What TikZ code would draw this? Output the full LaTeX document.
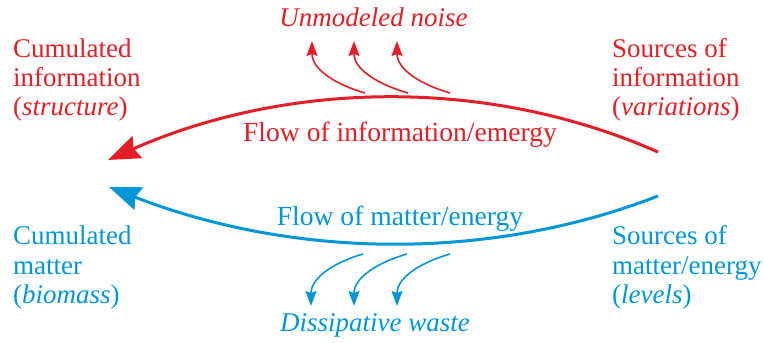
\documentclass[tikz,border=0pt]{standalone}
\usepackage{fontspec}
\setmainfont{Liberation Serif}
\usetikzlibrary{arrows.meta}
\definecolor{flowred}{RGB}{228,30,38}
\definecolor{flowblue}{RGB}{0,150,215}
\begin{document}
\begin{tikzpicture}[x=1pt,y=1pt,
  font=\fontsize{27}{29.3}\selectfont,
  lbl/.style={inner sep=0pt, align=left, anchor=base west},
  ctr/.style={inner sep=0pt, anchor=base},
  flowtxt/.style={ctr, font=\fontsize{27.6}{30}\selectfont},
  bigred/.style={draw=flowred, line width=3pt, -{Stealth[length=32pt,width=24pt,inset=4pt]}},
  bigblue/.style={draw=flowblue, line width=3pt, -{Stealth[length=32pt,width=24pt,inset=4pt]}},
  smallred/.style={draw=flowred, line width=1.6pt, -{Stealth[length=15pt,width=11pt,inset=2pt]}},
  smallblue/.style={draw=flowblue, line width=1.6pt, -{Stealth[length=15pt,width=11pt,inset=2pt]}}]
\useasboundingbox (0,0) rectangle (764,343);

% labels (base anchor = baseline of last line)
\node[lbl, text=flowred] (cuminfo) at (13,227) {Cumulated\\information\\(\textit{structure})};
\node[lbl, text=flowred] (srcinfo) at (612,227) {Sources of\\information\\(\textit{variations})};
\node[lbl, text=flowblue] (cummat) at (13,39.5) {Cumulated\\matter\\(\textit{biomass})};
\node[lbl, text=flowblue] (srcmat) at (612,39.5) {Sources of\\matter/energy\\(\textit{levels})};
\node[ctr, text=flowred] (noise) at (373.5,316) {\textit{Unmodeled noise}};
\node[ctr, text=flowblue] (waste) at (375,11.3) {\textit{Dissipative waste}};
\node[flowtxt, text=flowred] (flowinfo) at (400,201) {Flow of information/emergy};
\node[flowtxt, text=flowblue] (flowmat) at (400,117) {Flow of matter/energy};

% big arcs
\coordinate (redS) at (658,191);
\coordinate (redE) at (108,183);
\coordinate (blueS) at (658,147);
\coordinate (blueE) at (109,156);
\draw[bigred] (redS) .. controls (483,268.2) and (283,260.2) .. (redE);
\draw[bigblue] (blueS) .. controls (481,78.4) and (285,87.4) .. (blueE);

% noise arrows
\coordinate (n1s) at (365,250); \coordinate (n1e) at (312,302);
\coordinate (n2s) at (408,250); \coordinate (n2e) at (354,302);
\coordinate (n3s) at (450,250); \coordinate (n3e) at (397,302);
\draw[smallred] (n1s) to[out=164,in=-90] (n1e);
\draw[smallred] (n2s) to[out=164,in=-90] (n2e);
\draw[smallred] (n3s) to[out=164,in=-90] (n3e);

% waste arrows
\coordinate (w1s) at (363,89); \coordinate (w1e) at (311,37);
\coordinate (w2s) at (407,89); \coordinate (w2e) at (354,37);
\coordinate (w3s) at (450,89); \coordinate (w3e) at (397,37);
\draw[smallblue] (w1s) to[out=196,in=90] (w1e);
\draw[smallblue] (w2s) to[out=196,in=90] (w2e);
\draw[smallblue] (w3s) to[out=196,in=90] (w3e);
\end{tikzpicture}
\end{document}
